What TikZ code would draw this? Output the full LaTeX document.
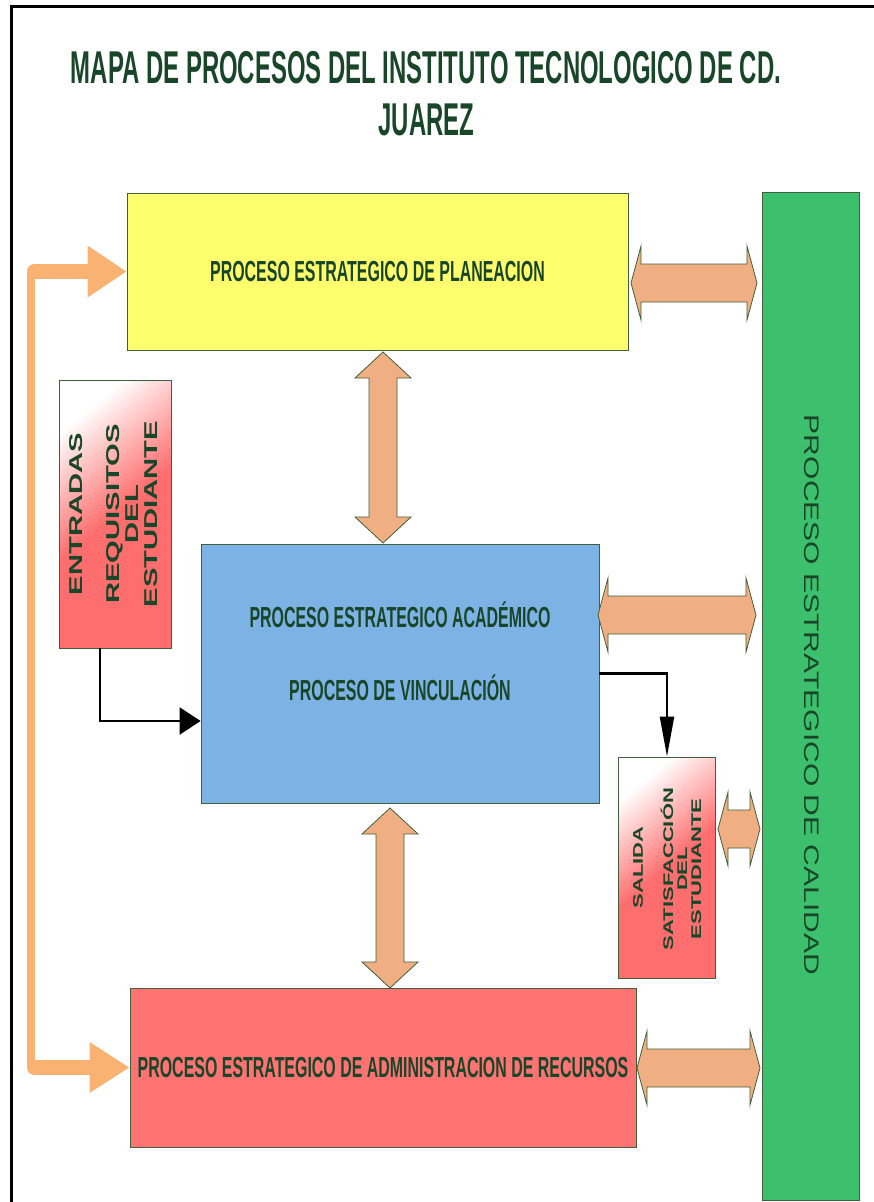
\documentclass[tikz,border=0pt]{standalone}
\usepackage{fontspec}
\usepackage{tikz}
\usetikzlibrary{arrows.meta}
\newfontfamily\titular{Liberation Sans}[FakeStretch=0.52]
\newfontfamily\angosta{Liberation Sans}[FakeStretch=0.55]
\newfontfamily\ancha{Liberation Sans}[FakeStretch=1.57]
\newfontfamily\calidadletra{Liberation Sans}[FakeStretch=1.43]
\definecolor{verdetexto}{RGB}{25,70,40}
\definecolor{borde}{RGB}{65,95,60}
\definecolor{amarillo}{RGB}{255,255,110}
\definecolor{azul}{RGB}{125,178,228}
\definecolor{rojo}{RGB}{255,115,115}
\definecolor{rojoclaro}{RGB}{255,110,110}
\definecolor{verde}{RGB}{60,192,110}
\definecolor{durazno}{RGB}{240,175,130}
\definecolor{naranjo}{RGB}{250,178,115}
% flechas dobles de bloque: (izq/arriba) -> (der/abajo)
\newcommand{\dobleh}[2]{%
  \draw[bloque] (#1) -- ([shift={(10,-37)}]#1) -- ([shift={(10,-19)}]#1)
    -- ([shift={(-10,-19)}]#2) -- ([shift={(-10,-37)}]#2) -- (#2)
    -- ([shift={(-10,37)}]#2) -- ([shift={(-10,19)}]#2)
    -- ([shift={(10,19)}]#1) -- ([shift={(10,37)}]#1) -- cycle;}
\newcommand{\doblev}[2]{%
  \draw[bloque] (#1) -- ([shift={(28,26)}]#1) -- ([shift={(14,26)}]#1)
    -- ([shift={(14,-26)}]#2) -- ([shift={(28,-26)}]#2) -- (#2)
    -- ([shift={(-28,-26)}]#2) -- ([shift={(-14,-26)}]#2)
    -- ([shift={(-14,26)}]#1) -- ([shift={(-28,26)}]#1) -- cycle;}
\begin{document}
\begin{tikzpicture}[x=1pt,y=-1pt,
	caja/.style={draw=borde, line width=0.8pt},
	degradado/.style={top color=white, bottom color=rojoclaro, middle color=rojoclaro, shading angle=40},
	titulo/.style={text=verdetexto, anchor=base, font=\titular\bfseries\fontsize{46}{52}\selectfont},
	textocaja/.style={text=verdetexto, font=\angosta\bfseries\fontsize{29}{34}\selectfont},
	textoancho/.style={text=verdetexto, rotate=90, align=center, font=\ancha\bfseries\fontsize{18.6}{19}\selectfont},
	textochico/.style={text=verdetexto, rotate=90, align=center, font=\ancha\bfseries\fontsize{14}{14}\selectfont},
	bloque/.style={draw=borde, fill=durazno, line width=0.8pt, line join=miter},
	flecha/.style={black, line width=2.2pt},
	naranja/.style={draw=naranjo}]
				\tikzstyle{every node}+=[inner sep=0pt]
				\useasboundingbox (0,0) rectangle (873,1202);
				\draw [black, line width=3pt] (11,1220) -- (11,6.5) -- (890,6.5);
				\node [titulo] (titulo) at (426,83) {MAPA DE PROCESOS DEL INSTITUTO TECNOLOGICO DE CD.};
				\node [titulo] (juarez) at (426.5,135) {JUAREZ};
				\node [caja, fill=amarillo, minimum width=501pt, minimum height=157pt, textocaja] (plan) at (377.5,271.5) {PROCESO ESTRATEGICO DE PLANEACION};
				\node [caja, fill=verde, minimum width=97pt, minimum height=1008pt] (calidad) at (810.5,696) {};
				\node [text=verdetexto, rotate=-90, font=\calidadletra\fontsize{21}{24}\selectfont] (tcalidad) at (812,695) {PROCESO ESTRATEGICO DE CALIDAD};
				\node [caja, degradado, minimum width=112pt, minimum height=268pt] (entradas) at (115,514) {};
				\node [textoancho] (tentradas) at (76,514) {ENTRADAS};
				\node [textoancho] (trequisitos) at (132.5,514) {REQUISITOS\\DEL\\ESTUDIANTE};
				\node [caja, fill=azul, minimum width=398pt, minimum height=259pt] (academico) at (400,673.5) {};
				\node [textocaja, anchor=base] (tacademico) at (400,627) {PROCESO ESTRATEGICO ACADÉMICO};
				\node [textocaja, anchor=base] (tvinculacion) at (400,700) {PROCESO DE VINCULACIÓN};
				\node [caja, degradado, minimum width=97pt, minimum height=221pt] (salida) at (667,867.5) {};
				\node [textochico] (tsalida) at (638,867.5) {SALIDA};
				\node [textochico] (tsatisfaccion) at (681,869) {SATISFACCIÓN\\DEL\\ESTUDIANTE};
				\node [caja, fill=rojo, minimum width=506pt, minimum height=159pt, textocaja] (admin) at (383,1067.5) {PROCESO ESTRATEGICO DE ADMINISTRACION DE RECURSOS};
				% flujo naranja de la izquierda
				\coordinate (troncoarriba) at (31,271.5);
				\coordinate (troncoabajo) at (31,1067.5);
				\draw [naranja, line width=8pt] (troncoarriba) -- (troncoabajo);
				\draw [naranja, line width=15pt, line cap=round, -{Triangle[length=39pt,width=49pt]}] ([shift={(3.5,0)}]troncoarriba) -- (plan.west);
				\draw [naranja, line width=15pt, line cap=round, -{Triangle[length=40pt,width=48pt]}] ([shift={(3.5,0)}]troncoabajo) -- (admin.west);
				% flechas negras
				\draw [flecha, -{Triangle[length=21pt,width=27pt]}] ([shift={(-15,0)}]entradas.south) |- ([shift={(0,47.5)}]academico.west);
				\draw [flecha, -{Triangle[length=40pt,width=14pt]}] (academico.east) -| (salida.north);
				% flechas dobles
				\coordinate (pa) at (631,283);
				\coordinate (pb) at (757,283);
				\coordinate (qa) at (598,615);
				\coordinate (qb) at (756,615);
				\coordinate (ra) at (718,829);
				\coordinate (rb) at (760,829);
				\coordinate (sa) at (637,1068);
				\coordinate (sb) at (760,1068);
				\coordinate (ua) at (383,352);
				\coordinate (ub) at (383,543);
				\coordinate (va) at (390,808);
				\coordinate (vb) at (390,988);
				\dobleh{pa}{pb}
				\dobleh{qa}{qb}
				\dobleh{ra}{rb}
				\dobleh{sa}{sb}
				\doblev{ua}{ub}
				\doblev{va}{vb}
\end{tikzpicture}
\end{document}
